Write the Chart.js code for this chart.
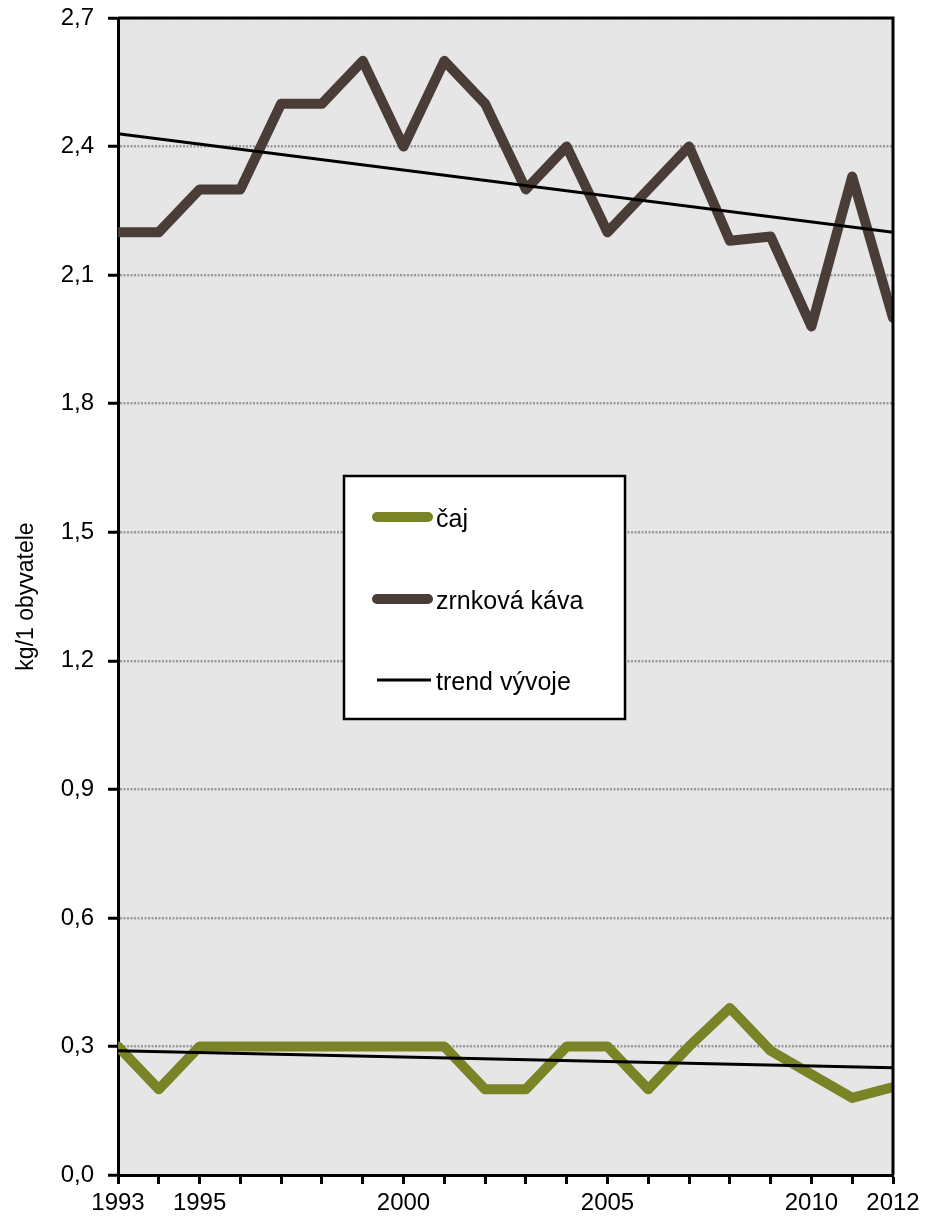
<!DOCTYPE html>
<html>
<head>
<meta charset="utf-8">
<script src="https://cdn.jsdelivr.net/npm/chart.js@4/dist/chart.umd.min.js"></script>
<style>
  html, body { margin: 0; padding: 0; background: #fff; }
  .wrap { width: 926px; height: 1220px; position: relative; }
</style>
</head>
<body>
<div class="wrap"><canvas id="c" width="926" height="1220"></canvas></div>
<script>
// Spotřeba čaje a zrnkové kávy (kg/1 obyvatele), 1993–2012
const years = [1993, 1994, 1995, 1996, 1997, 1998, 1999, 2000, 2001, 2002,
               2003, 2004, 2005, 2006, 2007, 2008, 2009, 2010, 2011, 2012];
const tea = [0.30, 0.20, 0.30, 0.30, 0.30, 0.30, 0.30, 0.30, 0.30, 0.20,
             0.20, 0.30, 0.30, 0.20, 0.30, 0.39, 0.29, 0.235, 0.18, 0.205];
const coffee = [2.20, 2.20, 2.30, 2.30, 2.50, 2.50, 2.60, 2.40, 2.60, 2.50,
                2.30, 2.40, 2.20, 2.30, 2.40, 2.18, 2.19, 1.98, 2.33, 2.00];
// trend lines read at the two ends
const trendYears = [1993, 2012];
const coffeeTrend = [2.43, 2.20];
const teaTrend = [0.29, 0.25];
const labeledYears = [1993, 1995, 2000, 2005, 2010, 2012];
const yTicks = [0, 0.3, 0.6, 0.9, 1.2, 1.5, 1.8, 2.1, 2.4, 2.7];

const TEA = "#7a8427";
const COFFEE = "#4a3c36";
const FONT = "'Liberation Sans', Arial, sans-serif";

const pts = (xs, ys) => xs.map((x, i) => ({ x, y: ys[i] }));

const plotBg = {
  id: "plotBg",
  beforeDraw(chart) {
    const { ctx, chartArea: a } = chart;
    ctx.save();
    ctx.fillStyle = "#e6e6e6";
    ctx.fillRect(a.left, a.top, a.right - a.left, a.bottom - a.top);
    ctx.restore();
  },
  afterDraw(chart) {
    const { ctx, chartArea: a } = chart;
    ctx.save();
    ctx.strokeStyle = "#000";
    ctx.lineWidth = 3;
    ctx.beginPath();
    ctx.moveTo(a.left, a.top);
    ctx.lineTo(a.right, a.top);
    ctx.lineTo(a.right, a.bottom);
    ctx.stroke();
    ctx.restore();
  },
};

// legend box floating in the middle of the plot
const boxLegend = {
  id: "boxLegend",
  afterDraw(chart) {
    const ctx = chart.ctx;
    const x = 344, y = 476, w = 281, h = 243;
    ctx.save();
    ctx.fillStyle = "#fff";
    ctx.fillRect(x, y, w, h);
    ctx.strokeStyle = "#000";
    ctx.lineWidth = 2.5;
    ctx.strokeRect(x, y, w, h);
    const rows = [
      { ds: 0, y: 517, x1: 377, x2: 428 },
      { ds: 1, y: 599, x1: 377, x2: 428 },
      { ds: 2, y: 680, x1: 377, x2: 431 },
    ];
    rows.forEach(r => {
      const ds = chart.data.datasets[r.ds];
      ctx.strokeStyle = ds.borderColor;
      ctx.lineWidth = ds.borderWidth;
      ctx.lineCap = ds.borderWidth > 4 ? "round" : "butt";
      ctx.beginPath();
      ctx.moveTo(r.x1, r.y);
      ctx.lineTo(r.x2, r.y);
      ctx.stroke();
      ctx.fillStyle = "#000";
      ctx.font = "25px " + FONT;
      ctx.textBaseline = "middle";
      ctx.fillText(ds.label, 436, r.y + 3);
    });
    ctx.restore();
  },
};

new Chart(document.getElementById("c"), {
  type: "line",
  data: {
    datasets: [
      { label: "čaj", data: pts(years, tea), borderColor: TEA, borderWidth: 10,
        borderJoinStyle: "round", borderCapStyle: "round", pointRadius: 0, order: 2, clip: 0 },
      { label: "zrnková káva", data: pts(years, coffee), borderColor: COFFEE, borderWidth: 10,
        borderJoinStyle: "round", borderCapStyle: "round", pointRadius: 0, order: 2, clip: 0 },
      { label: "trend vývoje", data: pts(trendYears, teaTrend), borderColor: "#000", borderWidth: 3,
        pointRadius: 0, order: 1, clip: 0 },
      { label: "trend vývoje (káva)", data: pts(trendYears, coffeeTrend), borderColor: "#000", borderWidth: 3,
        pointRadius: 0, order: 1, clip: 0 },
    ],
  },
  options: {
    responsive: false,
    animation: false,
    layout: { padding: { top: 18, right: 33, left: 0, bottom: 0 } },
    plugins: { legend: { display: false }, tooltip: { enabled: false } },
    scales: {
      x: {
        type: "linear",
        min: 1993,
        max: 2012,
        afterBuildTicks(scale) {
          scale.ticks = years.map(v => ({ value: v }));
        },
        afterFit(scale) {
          scale.height = 45;
          scale.paddingLeft = 0;
          scale.paddingRight = 0;
        },
        ticks: {
          autoSkip: false,
          maxRotation: 0,
          padding: 5,
          color: "#000",
          font: { family: FONT, size: 24 },
          callback: v => labeledYears.includes(v) ? String(v) : "",
        },
        grid: { drawOnChartArea: false, tickColor: "#000", tickLength: 9, tickWidth: 3 },
        border: { color: "#000", width: 3 },
      },
      y: {
        min: 0,
        max: 2.7,
        afterBuildTicks(scale) {
          scale.ticks = yTicks.map(v => ({ value: v }));
        },
        afterFit(scale) {
          scale.width = 118;
          scale.paddingTop = 0;
          scale.paddingBottom = 0;
        },
        ticks: {
          padding: 14,
          color: "#000",
          font: { family: FONT, size: 24 },
          callback: v => v.toFixed(1).replace(".", ","),
        },
        grid: { color: "#999", lineWidth: 2.5, tickColor: "#000", tickLength: 10, tickWidth: 3 },
        border: { color: "#000", width: 3, dash: [2, 1.5] },
        title: {
          display: true,
          text: "kg/1 obyvatele",
          color: "#000",
          font: { family: FONT, size: 23 },
          padding: { top: 13, bottom: 0 },
        },
      },
    },
  },
  plugins: [plotBg, boxLegend],
});
</script>
</body>
</html>
